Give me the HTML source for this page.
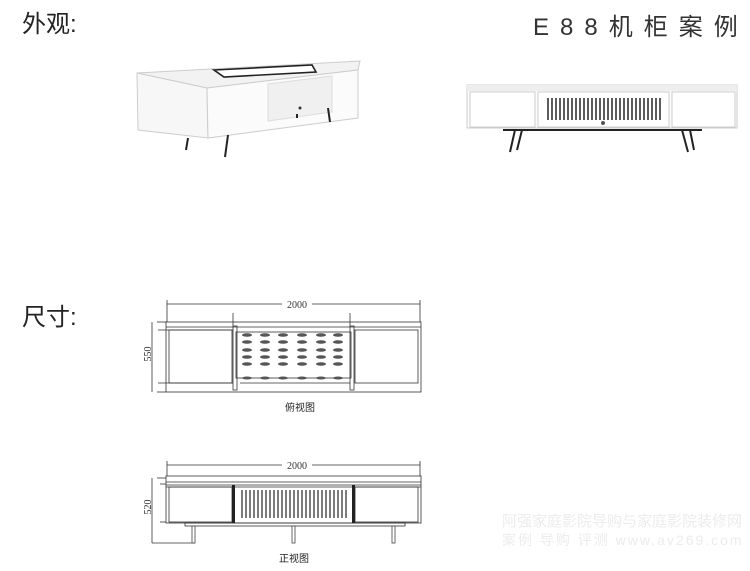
<!DOCTYPE html>
<html><head><meta charset="utf-8"><style>
html,body{margin:0;padding:0;background:#fff}
svg{display:block}
.t{font-family:"Liberation Sans","Noto Sans CJK SC",sans-serif}
</style></head><body>
<svg width="750" height="571" viewBox="0 0 750 571" xmlns="http://www.w3.org/2000/svg">
<text class="t" x="22" y="32" font-size="24" fill="#222">外观:</text>
<text class="t" x="533" y="35" font-size="24" letter-spacing="11" fill="#333">E88机柜案例</text>
<text class="t" x="22" y="325" font-size="24" fill="#222">尺寸:</text>

<!-- perspective cabinet -->
<g stroke="#ccc" stroke-width="1">
<polygon points="137,73 360,61 358,70 207,88" fill="#f2f2f2"/>
<polygon points="137,73 207,88 208,138 138,130" fill="#f7f7f7"/>
<polygon points="207,88 358,70 358,118 208,138" fill="#fbfbfb"/>
<polygon points="268,84 332,76 332,112 268,121" fill="#f0f0f0" stroke="#ddd"/>
</g>
<polygon points="214,70 312,65 316,72 224,77" fill="#fff" stroke="#222" stroke-width="1.6"/>
<g stroke="#222" stroke-width="2">
<line x1="188" y1="138" x2="186" y2="150"/><line x1="228" y1="135" x2="225" y2="157"/>
<line x1="297" y1="114" x2="297" y2="118"/><line x1="328" y1="108" x2="330" y2="122"/>
</g>
<circle cx="300" cy="108" r="1.5" fill="#333"/>

<!-- front photo -->
<rect x="467" y="85" width="270" height="43" fill="#fbfbfb" stroke="#ccc"/>
<rect x="467" y="85" width="270" height="6" fill="#eee"/>
<rect x="470" y="92" width="65" height="35" fill="#fff" stroke="#ccc"/>
<rect x="538" y="92" width="131" height="35" fill="#fff" stroke="#ccc"/>
<rect x="672" y="92" width="63" height="35" fill="#fff" stroke="#ccc"/>
<g stroke="#333" stroke-width="1.6">
<line x1="548" y1="98" x2="548" y2="120"/><line x1="552" y1="98" x2="552" y2="120"/><line x1="556" y1="98" x2="556" y2="120"/><line x1="560" y1="98" x2="560" y2="120"/><line x1="564" y1="98" x2="564" y2="120"/><line x1="568" y1="98" x2="568" y2="120"/><line x1="572" y1="98" x2="572" y2="120"/><line x1="576" y1="98" x2="576" y2="120"/><line x1="580" y1="98" x2="580" y2="120"/><line x1="584" y1="98" x2="584" y2="120"/><line x1="588" y1="98" x2="588" y2="120"/><line x1="592" y1="98" x2="592" y2="120"/><line x1="596" y1="98" x2="596" y2="120"/><line x1="600" y1="98" x2="600" y2="120"/><line x1="604" y1="98" x2="604" y2="120"/><line x1="608" y1="98" x2="608" y2="120"/><line x1="612" y1="98" x2="612" y2="120"/><line x1="616" y1="98" x2="616" y2="120"/><line x1="620" y1="98" x2="620" y2="120"/><line x1="624" y1="98" x2="624" y2="120"/><line x1="628" y1="98" x2="628" y2="120"/><line x1="632" y1="98" x2="632" y2="120"/><line x1="636" y1="98" x2="636" y2="120"/><line x1="640" y1="98" x2="640" y2="120"/><line x1="644" y1="98" x2="644" y2="120"/><line x1="648" y1="98" x2="648" y2="120"/><line x1="652" y1="98" x2="652" y2="120"/><line x1="656" y1="98" x2="656" y2="120"/><line x1="660" y1="98" x2="660" y2="120"/>
</g>
<circle cx="603" cy="123" r="2" fill="#555"/>
<g stroke="#222" stroke-width="2">
<line x1="503" y1="130" x2="702" y2="130"/>
<line x1="515" y1="130" x2="510" y2="152"/><line x1="522" y1="130" x2="517" y2="150"/>
<line x1="682" y1="130" x2="688" y2="152"/><line x1="690" y1="130" x2="694" y2="150"/>
</g>

<!-- top view drawing -->
<g stroke="#333" stroke-width="0.8" fill="none">
<line x1="167" y1="304" x2="420" y2="304"/><line x1="167" y1="300" x2="167" y2="322"/><line x1="420" y1="300" x2="420" y2="322"/>
<rect x="166" y="322" width="255" height="70"/>
<line x1="166" y1="327" x2="421" y2="327"/>
<rect x="169" y="330" width="63" height="53"/>
<rect x="355" y="330" width="63" height="53"/>
<rect x="233" y="326" width="4" height="64"/><rect x="350" y="326" width="4" height="64"/>
<rect x="236" y="332" width="115" height="46"/>
<line x1="240" y1="383" x2="350" y2="383"/>
<line x1="233" y1="313" x2="233" y2="326"/><line x1="350" y1="313" x2="350" y2="326"/>
<line x1="157" y1="322" x2="166" y2="322"/><line x1="157" y1="392" x2="166" y2="392"/><line x1="152" y1="322" x2="152" y2="392"/>
<line x1="158" y1="330" x2="233" y2="330"/><line x1="158" y1="383" x2="233" y2="383"/>
</g>
<g fill="#555">
<ellipse cx="247" cy="335" rx="5" ry="1.8"/><ellipse cx="265" cy="335" rx="5" ry="1.8"/><ellipse cx="283" cy="335" rx="5" ry="1.8"/><ellipse cx="302" cy="335" rx="5" ry="1.8"/><ellipse cx="321" cy="335" rx="5" ry="1.8"/><ellipse cx="338" cy="335" rx="5" ry="1.8"/>
<ellipse cx="247" cy="342" rx="5" ry="1.8"/><ellipse cx="265" cy="342" rx="5" ry="1.8"/><ellipse cx="283" cy="342" rx="5" ry="1.8"/><ellipse cx="302" cy="342" rx="5" ry="1.8"/><ellipse cx="321" cy="342" rx="5" ry="1.8"/><ellipse cx="338" cy="342" rx="5" ry="1.8"/>
<ellipse cx="247" cy="350" rx="5" ry="1.8"/><ellipse cx="265" cy="350" rx="5" ry="1.8"/><ellipse cx="283" cy="350" rx="5" ry="1.8"/><ellipse cx="302" cy="350" rx="5" ry="1.8"/><ellipse cx="321" cy="350" rx="5" ry="1.8"/><ellipse cx="338" cy="350" rx="5" ry="1.8"/>
<ellipse cx="247" cy="357" rx="5" ry="1.8"/><ellipse cx="265" cy="357" rx="5" ry="1.8"/><ellipse cx="283" cy="357" rx="5" ry="1.8"/><ellipse cx="302" cy="357" rx="5" ry="1.8"/><ellipse cx="321" cy="357" rx="5" ry="1.8"/><ellipse cx="338" cy="357" rx="5" ry="1.8"/>
<ellipse cx="247" cy="364" rx="5" ry="1.8"/><ellipse cx="265" cy="364" rx="5" ry="1.8"/><ellipse cx="283" cy="364" rx="5" ry="1.8"/><ellipse cx="302" cy="364" rx="5" ry="1.8"/><ellipse cx="321" cy="364" rx="5" ry="1.8"/><ellipse cx="338" cy="364" rx="5" ry="1.8"/>
<ellipse cx="247" cy="378" rx="5" ry="1.5"/><ellipse cx="265" cy="378" rx="5" ry="1.5"/><ellipse cx="283" cy="378" rx="5" ry="1.5"/><ellipse cx="302" cy="378" rx="5" ry="1.5"/><ellipse cx="321" cy="378" rx="5" ry="1.5"/><ellipse cx="338" cy="378" rx="5" ry="1.5"/>
</g>
<rect x="282" y="299" width="30" height="10" fill="#fff"/>
<text x="297" y="308" font-size="10" text-anchor="middle" fill="#333" font-family="Liberation Serif">2000</text>
<text x="154" y="357" font-size="10" text-anchor="middle" fill="#333" font-family="Liberation Serif" transform="rotate(-90 151 357)">550</text>
<text class="t" x="300" y="411" font-size="10" text-anchor="middle" fill="#222">俯视图</text>

<!-- front view drawing -->
<g stroke="#333" stroke-width="0.8" fill="none">
<line x1="167" y1="465" x2="420" y2="465"/><line x1="167" y1="461" x2="167" y2="476"/><line x1="420" y1="461" x2="420" y2="476"/>
<rect x="166" y="476" width="255" height="47"/>
<line x1="166" y1="482" x2="421" y2="482"/><line x1="166" y1="485" x2="421" y2="485"/><line x1="166" y1="487" x2="421" y2="487"/>
<rect x="169" y="487" width="63" height="35"/>
<rect x="355" y="487" width="63" height="35"/>
<rect x="185" y="523" width="220" height="3"/>
<line x1="157" y1="478" x2="166" y2="478"/><line x1="152" y1="478" x2="152" y2="543"/><line x1="152" y1="543" x2="195" y2="543"/>
<line x1="160" y1="484" x2="166" y2="484"/><line x1="160" y1="522" x2="166" y2="522"/>
</g>
<g fill="#222"><rect x="232" y="485" width="3" height="38"/><rect x="352" y="485" width="3" height="38"/></g>
<g stroke="#444" stroke-width="1.4">
<line x1="242" y1="490" x2="242" y2="518"/><line x1="246" y1="490" x2="246" y2="518"/><line x1="250" y1="490" x2="250" y2="518"/><line x1="254" y1="490" x2="254" y2="518"/><line x1="258" y1="490" x2="258" y2="518"/><line x1="262" y1="490" x2="262" y2="518"/><line x1="266" y1="490" x2="266" y2="518"/><line x1="270" y1="490" x2="270" y2="518"/><line x1="274" y1="490" x2="274" y2="518"/><line x1="278" y1="490" x2="278" y2="518"/><line x1="282" y1="490" x2="282" y2="518"/><line x1="286" y1="490" x2="286" y2="518"/><line x1="290" y1="490" x2="290" y2="518"/><line x1="294" y1="490" x2="294" y2="518"/><line x1="298" y1="490" x2="298" y2="518"/><line x1="302" y1="490" x2="302" y2="518"/><line x1="306" y1="490" x2="306" y2="518"/><line x1="310" y1="490" x2="310" y2="518"/><line x1="314" y1="490" x2="314" y2="518"/><line x1="318" y1="490" x2="318" y2="518"/><line x1="322" y1="490" x2="322" y2="518"/><line x1="326" y1="490" x2="326" y2="518"/><line x1="330" y1="490" x2="330" y2="518"/><line x1="334" y1="490" x2="334" y2="518"/><line x1="338" y1="490" x2="338" y2="518"/><line x1="342" y1="490" x2="342" y2="518"/><line x1="346" y1="490" x2="346" y2="518"/>
</g>
<g fill="#fff" stroke="#444" stroke-width="0.8">
<rect x="192" y="526" width="3" height="17"/><rect x="292" y="526" width="3" height="17"/><rect x="392" y="526" width="3" height="17"/>
</g>
<rect x="282" y="460" width="30" height="10" fill="#fff"/>
<text x="297" y="469" font-size="10" text-anchor="middle" fill="#333" font-family="Liberation Serif">2000</text>
<text x="154" y="510" font-size="10" text-anchor="middle" fill="#333" font-family="Liberation Serif" transform="rotate(-90 151 510)">520</text>
<text class="t" x="294" y="562" font-size="10" text-anchor="middle" fill="#222">正视图</text>

<!-- watermark -->
<text class="t" x="502" y="526" font-size="15" fill="#ececec">阿强家庭影院导购与家庭影院装修网</text>
<text class="t" x="502" y="545" font-size="14" fill="#ececec" letter-spacing="2">案例 导购 评测 www.av269.com</text>
</svg>
</body></html>
